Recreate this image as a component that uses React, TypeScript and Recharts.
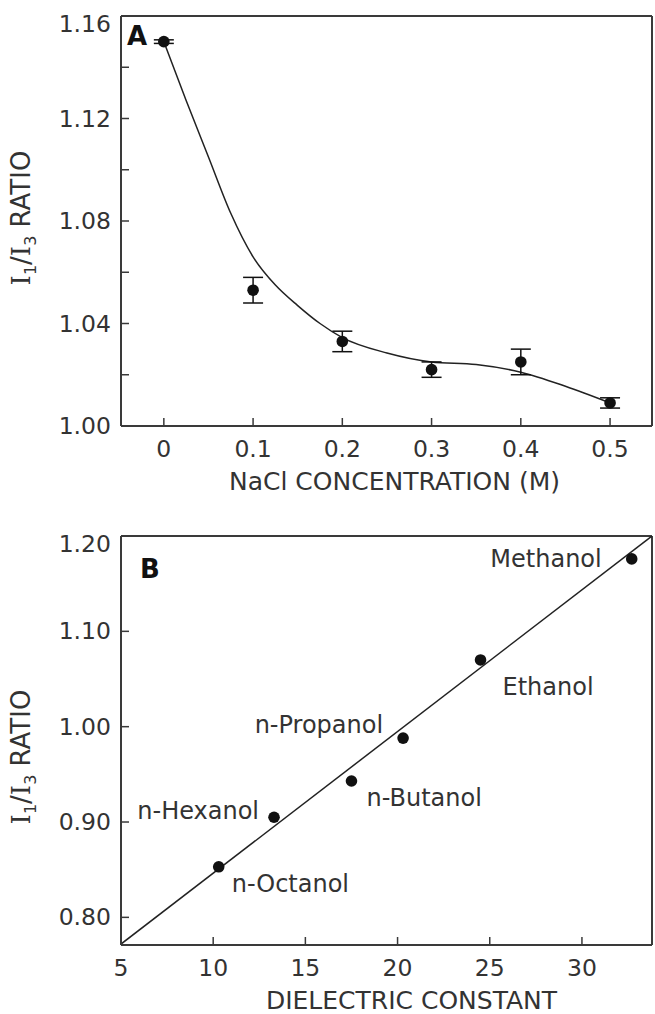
import React from 'react'
import { ComposedChart, Scatter, Line, XAxis, YAxis, ErrorBar, ReferenceLine, LabelList } from 'recharts'

// Panel A: NaCl concentration vs I1/I3 ratio
const naclConc = [0, 0.1, 0.2, 0.3, 0.4, 0.5]
const ratioA = [1.15, 1.053, 1.033, 1.022, 1.025, 1.009]
const errA = [0.0007, 0.005, 0.004, 0.003, 0.005, 0.002]
const fitConc = [0, 0.025, 0.05, 0.075, 0.1, 0.125, 0.15, 0.175, 0.2, 0.25, 0.3, 0.35, 0.4, 0.45, 0.5]
const fitRatioA = [1.15, 1.127, 1.105, 1.083, 1.066, 1.055, 1.047, 1.04, 1.0345, 1.0285, 1.025, 1.024, 1.021, 1.0155, 1.009]
const xTicksA = [0, 0.1, 0.2, 0.3, 0.4, 0.5]
const yTicksA = [1.0, 1.02, 1.04, 1.06, 1.08, 1.1, 1.12, 1.14, 1.16]
const yLabelsA = [1.0, 1.04, 1.08, 1.12, 1.16]

// Panel B: dielectric constant vs I1/I3 ratio
const solvents = ['Methanol', 'Ethanol', 'n-Propanol', 'n-Butanol', 'n-Hexanol', 'n-Octanol']
const dielectric = [32.7, 24.5, 20.3, 17.5, 13.3, 10.3]
const ratioB = [1.176, 1.07, 0.988, 0.943, 0.905, 0.853]
const fitDielectric = [5, 33.8]
const fitRatioB = [0.772, 1.2]
const xTicksB = [5, 10, 15, 20, 25, 30]
const yTicksB = [0.8, 0.9, 1.0, 1.1, 1.2]

const pointsA = naclConc.map((x, i) => ({ x, y: ratioA[i], err: errA[i] }))
const curveA = fitConc.map((x, i) => ({ x, y: fitRatioA[i] }))
const pointsB = solvents.map((name, i) => ({ name, x: dielectric[i], y: ratioB[i] }))
const lineB = fitDielectric.map((x, i) => ({ x, y: fitRatioB[i] }))

const FONT = '"DejaVu Sans", Verdana, sans-serif'
const INK = '#333'
const AXIS = '#3a3a3a'

const labelPlace: Record<string, { dx: number; dy: number; anchor: 'start' | 'end' }> = {
  Methanol: { dx: -30, dy: 8, anchor: 'end' },
  Ethanol: { dx: 22, dy: 35, anchor: 'start' },
  'n-Propanol': { dx: -20, dy: -5, anchor: 'end' },
  'n-Butanol': { dx: 15, dy: 25, anchor: 'start' },
  'n-Hexanol': { dx: -15, dy: 2, anchor: 'end' },
  'n-Octanol': { dx: 13, dy: 25, anchor: 'start' },
}

const makeYTick = (labels: number[], top: number) => (props: any) => {
  const { x, y, payload } = props
  const v = payload.value as number
  const show = labels.some((l) => Math.abs(l - v) < 1e-6)
  const shift = Math.abs(v - top) < 1e-6 ? 16 : 8
  return (
    <g>
      <line x1={x + 10} x2={x + 18} y1={y} y2={y} stroke={AXIS} strokeWidth={1.5} />
      {show && (
        <text x={x} y={y + shift} textAnchor="end" fontSize={23.5} fontFamily={FONT} fill={INK}>
          {v.toFixed(2)}
        </text>
      )}
    </g>
  )
}

const makeXTick = (fmt: (v: number) => string) => (props: any) => {
  const { x, y, payload } = props
  return (
    <g>
      <line x1={x} x2={x} y1={y} y2={y - 8} stroke={AXIS} strokeWidth={1.5} />
      <text x={x} y={y + 31} textAnchor="middle" fontSize={23.5} fontFamily={FONT} fill={INK}>
        {fmt(payload.value)}
      </text>
    </g>
  )
}

const axisTitle = (text: string, dx: number) => (props: any) => {
  const vb = props.viewBox
  return (
    <text x={vb.x + vb.width / 2 + dx} y={vb.y + 64} textAnchor="middle" fontSize={25} fontFamily={FONT} fill={INK}>
      {text}
    </text>
  )
}

const Dot = (p: any) => <circle cx={p.cx} cy={p.cy} r={5.8} fill="#111" />

const solventLabel = (p: any) => {
  const pl = labelPlace[p.value]
  if (!pl) return null
  return (
    <text x={p.x + p.width / 2 + pl.dx} y={p.y + p.height / 2 + pl.dy} textAnchor={pl.anchor} fontSize={24} fontFamily={FONT} fill={INK}>
      {p.value}
    </text>
  )
}

const YLabel = ({ left, top }: { left: number; top: number }) => (
  <div
    style={{
      position: 'absolute', left, top, transform: 'translate(-50%, -50%) rotate(-90deg)',
      whiteSpace: 'nowrap', fontFamily: FONT, fontSize: 26, color: INK, lineHeight: '28px',
    }}
  >
    <span style={{ fontFamily: '"DejaVu Serif", serif' }}>I</span>
    <sub style={{ fontSize: 16 }}>1</sub>/
    <span style={{ fontFamily: '"DejaVu Serif", serif' }}>I</span>
    <sub style={{ fontSize: 16 }}>3</sub> RATIO
  </div>
)

const PanelLetter = ({ text, left, top }: { text: string; left: number; top: number }) => (
  <div style={{ position: 'absolute', left, top, fontFamily: FONT, fontWeight: 'bold', fontSize: 26, lineHeight: '26px', color: '#111' }}>
    {text}
  </div>
)

export default function App() {
  return (
    <div style={{ position: 'absolute', left: 0, top: 0, width: 655, height: 1014, background: '#fff' }}>
      <div style={{ position: 'absolute', left: 0, top: 0 }}>
        <ComposedChart width={655} height={500} margin={{ top: 16, right: 3, left: 61, bottom: 0 }}>
          <XAxis
            dataKey="x" type="number" domain={[-0.048, 0.547]} ticks={xTicksA} interval={0} allowDataOverflow
            height={74} tickSize={0} tickMargin={0} stroke={AXIS} strokeWidth={2}
            tick={makeXTick((v) => (v === 0 ? '0' : String(v)))}
            label={{ content: axisTitle('NaCl CONCENTRATION (M)', 8) }}
          />
          <YAxis
            dataKey="y" type="number" domain={[1.0, 1.16]} ticks={yTicksA} interval={0} allowDataOverflow
            width={60} tickSize={0} tickMargin={10} stroke={AXIS} strokeWidth={2}
            tick={makeYTick(yLabelsA, 1.16)}
          />
          <ReferenceLine y={1.16} stroke={AXIS} strokeWidth={2} />
          <ReferenceLine x={0.547} stroke={AXIS} strokeWidth={2} />
          <Line data={curveA} dataKey="y" type="monotone" stroke="#222" strokeWidth={1.5} dot={false} isAnimationActive={false} />
          <Scatter data={pointsA} shape={Dot} isAnimationActive={false}>
            <ErrorBar dataKey="err" direction="y" width={10} stroke="#111" strokeWidth={1.5} />
          </Scatter>
        </ComposedChart>
      </div>
      <div style={{ position: 'absolute', left: 0, top: 500 }}>
        <ComposedChart width={655} height={514} margin={{ top: 36, right: 3, left: 61, bottom: 0 }}>
          <XAxis
            dataKey="x" type="number" domain={[5, 33.8]} ticks={xTicksB} interval={0} allowDataOverflow
            height={69} tickSize={0} tickMargin={0} stroke={AXIS} strokeWidth={2}
            tick={makeXTick((v) => String(v))}
            label={{ content: axisTitle('DIELECTRIC CONSTANT', 25) }}
          />
          <YAxis
            dataKey="y" type="number" domain={[0.771, 1.2]} ticks={yTicksB} interval={0} allowDataOverflow
            width={60} tickSize={0} tickMargin={10} stroke={AXIS} strokeWidth={2}
            tick={makeYTick(yTicksB, 1.2)}
          />
          <ReferenceLine y={1.2} stroke={AXIS} strokeWidth={2} />
          <ReferenceLine x={33.8} stroke={AXIS} strokeWidth={2} />
          <Line data={lineB} dataKey="y" type="linear" stroke="#222" strokeWidth={1.5} dot={false} isAnimationActive={false} />
          <Scatter data={pointsB} shape={Dot} isAnimationActive={false}>
            <LabelList dataKey="name" content={solventLabel} />
          </Scatter>
        </ComposedChart>
      </div>
      <YLabel left={26} top={218} />
      <YLabel left={26} top={757} />
      <PanelLetter text="A" left={127} top={23} />
      <PanelLetter text="B" left={140} top={556} />
    </div>
  )
}
